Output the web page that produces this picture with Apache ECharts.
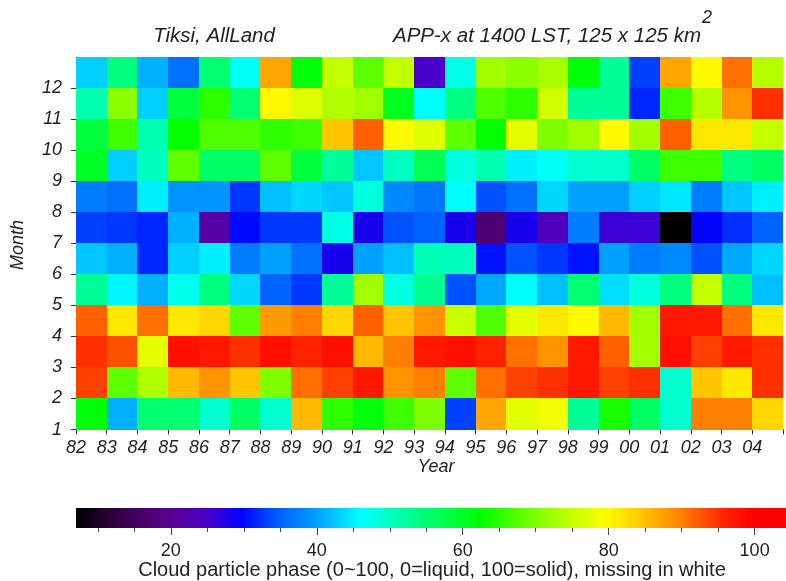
<!DOCTYPE html>
<html><head><meta charset="utf-8">
<script src="https://cdn.jsdelivr.net/npm/echarts@6/dist/echarts.min.js"></script>
<style>html,body{margin:0;padding:0;background:#fff}#c{width:786px;height:581px}</style>
</head><body><div id="c"></div>
<script>
// Categories
const years = ['82','83','84','85','86','87','88','89','90','91','92','93','94','95','96','97','98','99','00','01','02','03','04'];
const monthLabels = [1,2,3,4,5,6,7,8,9,10,11,12];

// Values per month (82 ... 04)
const month01 = [62, 41, 55, 55, 49, 56, 49, 85.5, 65, 62, 66, 70, 33, 87, 77.5, 78.5, 52.5, 64, 56, 49, 90, 90, 83];
const month02 = [94, 68, 73.5, 85.5, 88.5, 84.5, 70, 91, 94, 97, 88.5, 90, 68, 91, 94, 95, 97, 94, 95, 49, 84.5, 81.5, 95];
const month03 = [95, 93, 77.5, 98, 97, 95, 98, 96, 98, 85.5, 90, 97, 98, 96, 91, 88.5, 97, 92, 72.5, 98, 94, 97, 95];
const month04 = [92, 81.5, 91, 81.5, 83, 68, 88, 90, 83, 92, 84.5, 88.5, 75.5, 67, 77.5, 81.5, 80, 85.5, 72.5, 97, 97, 91, 81.5];
const month05 = [52.5, 45.5, 41, 47, 54, 43.5, 35, 32.5, 52.5, 72.5, 48, 53, 34, 40.5, 46, 42, 55, 44, 48, 54, 75, 54, 42];
const month06 = [42.5, 41, 31.5, 43, 45, 37, 40, 36, 28, 40, 42, 50.5, 50, 30.5, 34, 32.5, 30.5, 40, 37, 38, 34, 40.5, 43.5];
const month07 = [33, 32.5, 31.5, 41, 22, 30, 32.5, 32.5, 47.5, 28, 34, 35, 28, 17, 28, 24, 37, 26, 26, 7, 29.5, 32, 35];
const month08 = [37, 36, 45, 39, 39, 32.5, 42, 43.5, 42.5, 48, 38, 36.5, 46, 34, 36, 43.5, 40, 40, 43, 44.5, 37, 42.5, 45];
const month09 = [60, 43, 50, 68, 56, 56, 68, 58.5, 52.5, 42.5, 50, 57, 48, 51, 45, 46.5, 49, 49, 56, 66, 66, 54, 56];
const month10 = [58.5, 66, 51, 62.5, 67, 67, 65, 66, 84.5, 92, 80, 77, 68, 62.5, 77.5, 70, 72.5, 80, 72.5, 92, 81.5, 81.5, 75];
const month11 = [51, 71, 43, 58.5, 65, 55, 80, 77, 73.5, 72.5, 60.5, 46, 54, 67, 65, 76, 52.5, 52.5, 31.5, 66, 74, 88.5, 95];
const month12 = [43, 54, 41, 36, 55, 46.5, 87, 62, 75, 68, 75, 25, 47.5, 72.5, 71, 73, 62, 52.5, 33, 87, 80, 91, 74];

// Colour bar
const cbMin = 7, cbMax = 104.3;
const cbLabels = [20, 40, 60, 80, 100];
const cbTicks = [10, 15, 20, 25, 30, 35, 40, 45, 50, 55, 60, 65, 70, 75, 80, 85, 90, 95, 100];

const colorStops = [
  [7,'#000000'],[13,'#38004a'],[20,'#5a0090'],[25,'#4a00c8'],[29.5,'#0000ff'],
  [35,'#0064ff'],[40,'#00a0ff'],[46,'#00ffff'],[54,'#00ff80'],[62.5,'#00ff00'],
  [70,'#80ff00'],[79.5,'#ffff00'],[85,'#ffc000'],[90,'#ff8000'],[96,'#ff2000'],
  [100,'#ff0000'],[104.3,'#ff0000']
];
function hexToRgb(h){return [parseInt(h.substr(1,2),16),parseInt(h.substr(3,2),16),parseInt(h.substr(5,2),16)];}
function colorAt(v){
  if (v <= colorStops[0][0]) return colorStops[0][1];
  for (let k = 1; k < colorStops.length; k++) {
    if (v <= colorStops[k][0]) {
      const [v0,c0] = colorStops[k-1], [v1,c1] = colorStops[k];
      const t = (v - v0) / (v1 - v0);
      const a = hexToRgb(c0), b = hexToRgb(c1);
      return 'rgb(' + a.map((x,i)=>Math.round(x + (b[i]-x)*t)).join(',') + ')';
    }
  }
  return colorStops[colorStops.length-1][1];
}
const nSample = 98;
const paletteList = [];
for (let k = 0; k < nSample; k++) paletteList.push(colorAt(cbMin + (cbMax-cbMin)*k/(nSample-1)));

const rows = [month01,month02,month03,month04,month05,month06,month07,month08,month09,month10,month11,month12];
const cells = [];
rows.forEach((arr,i)=>arr.forEach((v,j)=>cells.push([j, monthLabels[i], v])));

const FONT = '"Liberation Sans", Arial, Helvetica, sans-serif';
const TXT = '#222';

const chart = echarts.init(document.getElementById('c'), null, {renderer:'canvas'});
const gradStops = paletteList.map((c,k)=>({offset:k/(nSample-1), color:c}));

chart.setOption({
  animation: false,
  backgroundColor: '#fff',
  grid: [
    {left: 76, top: 57, width: 714, height: 372.5},
    {left: 76, top: 508, width: 714, height: 20}
  ],
  visualMap: {
    type: 'continuous', show: false, min: cbMin, max: cbMax,
    dimension: 2, seriesIndex: 0, inRange: {color: paletteList}
  },
  xAxis: [
    {type:'value', gridIndex:0, min:0, max:years.length, interval:1,
     splitLine:{show:false},
     axisLine:{lineStyle:{color:'#333', width:1}},
     axisTick:{length:5, lineStyle:{color:'#333'}},
     axisLabel:{formatter:v=>years[v]||'', color:TXT, fontFamily:FONT, fontStyle:'italic', fontSize:18, margin:9}},
    {type:'value', gridIndex:1, min:cbMin, max:cbMax, position:'bottom',
     splitLine:{show:false}, axisLine:{show:false},
     axisTick:{customValues:cbTicks, length:4, lineStyle:{color:'#444'}},
     axisLabel:{show:false}},
    {type:'value', gridIndex:1, min:cbMin, max:cbMax, position:'bottom',
     splitLine:{show:false}, axisLine:{show:false},
     axisTick:{customValues:cbLabels, length:7, lineStyle:{color:'#444'}},
     axisLabel:{customValues:cbLabels, color:TXT, fontFamily:FONT, fontSize:18, margin:14}}
  ],
  yAxis: [
    {type:'value', gridIndex:0, min:1, max:13, interval:1,
     splitLine:{show:false},
     axisLine:{show:true, lineStyle:{color:'#333', width:1}},
     axisTick:{show:true, length:5, customValues:monthLabels, lineStyle:{color:'#333'}},
     axisLabel:{customValues:monthLabels, color:TXT, fontFamily:FONT, fontStyle:'italic', fontSize:18, margin:14}},
    {type:'value', gridIndex:1, min:0, max:1, show:false}
  ],
  series: [
    {type:'custom', xAxisIndex:0, yAxisIndex:0, data:cells, clip:false,
     encode:{x:0, y:1},
     renderItem:(params, api)=>{
       const x = api.value(0), y = api.value(1);
       const p0 = api.coord([x, y+1]), p1 = api.coord([x+1, y]);
       const x0 = Math.round(p0[0]), y0 = Math.round(p0[1]);
       const x1 = Math.round(p1[0]), y1 = Math.round(p1[1]);
       return {type:'rect', shape:{x:x0, y:y0, width:x1-x0, height:y1-y0}, style:{fill:api.visual('color')}};
     }},
    {type:'custom', xAxisIndex:1, yAxisIndex:1, data:[[cbMin, cbMax]], clip:false,
     encode:{x:[0,1]},
     renderItem:(params, api)=>{
       const p0 = api.coord([api.value(0), 1]), p1 = api.coord([api.value(1), 0]);
       return {type:'rect', shape:{x:p0[0], y:p0[1], width:p1[0]-p0[0], height:p1[1]-p0[1]},
         style:{fill:new echarts.graphic.LinearGradient(0,0,1,0,gradStops)}};
     }}
  ],
  graphic: [
    {type:'text', x:214, y:36, style:{text:'Tiksi, AllLand', fill:TXT, font:'italic 20.5px '+FONT, align:'center', verticalAlign:'middle'}},
    {type:'text', x:547, y:36, style:{text:'APP-x at 1400 LST, 125 x 125 km', fill:TXT, font:'italic 20.5px '+FONT, align:'center', verticalAlign:'middle'}},
    {type:'text', x:707, y:18, style:{text:'2', fill:TXT, font:'italic 18px '+FONT, align:'center', verticalAlign:'middle'}},
    {type:'text', x:18, y:245, rotation:Math.PI/2, style:{text:'Month', fill:TXT, font:'italic 18px '+FONT, align:'center', verticalAlign:'middle'}},
    {type:'text', x:436, y:467, style:{text:'Year', fill:TXT, font:'italic 18px '+FONT, align:'center', verticalAlign:'middle'}},
    {type:'text', x:432, y:570, style:{text:'Cloud particle phase (0~100, 0=liquid, 100=solid), missing in white', fill:TXT, font:'20px '+FONT, align:'center', verticalAlign:'middle'}}
  ]
});
</script></body></html>
